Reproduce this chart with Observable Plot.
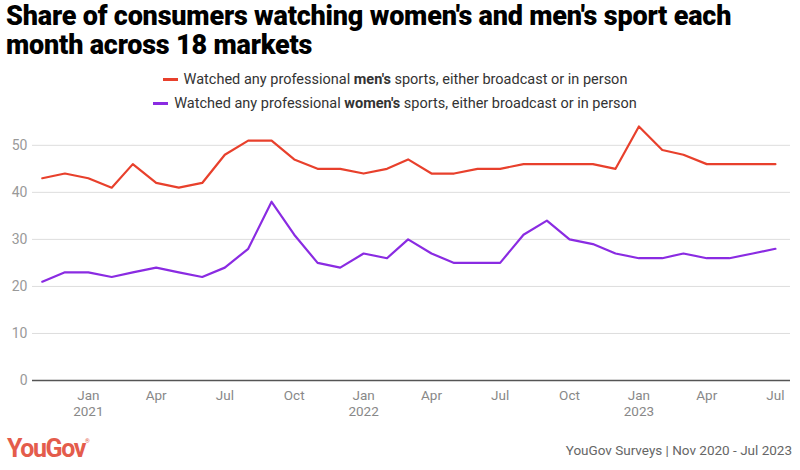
<!DOCTYPE html>
<html>
<head>
<meta charset="utf-8">
<script src="https://cdn.jsdelivr.net/npm/d3@7"></script>
<script src="https://cdn.jsdelivr.net/npm/@observablehq/plot@0.6"></script>
<style>
  html, body { margin: 0; padding: 0; background: #fff; }
  body { width: 800px; height: 470px; position: relative; overflow: hidden; font-family: Roboto, "Liberation Sans", sans-serif; }
  #title { position: absolute; left: 6px; top: 2px; width: 780px; font-size: 27px; font-weight: 900; line-height: 29px; color: #000; letter-spacing: -0.2px; }
  #legend { position: absolute; left: 0; top: 68px; width: 790px; text-align: center; font-size: 14.5px; color: #333; line-height: 24px; }
  .sw { display: inline-block; width: 15px; height: 3px; vertical-align: middle; margin-right: 6px; position: relative; top: -1px; }
  #chart { position: absolute; left: 0; top: 116px; }
  #logo { position: absolute; left: 7px; top: 434px; font-size: 25px; font-weight: 700; color: #e45c4c; letter-spacing: -1.4px; }
  #logo sup { font-size: 6px; font-weight: 400; vertical-align: top; position: relative; top: 3px; letter-spacing: 0; }
  #source { position: absolute; right: 8px; top: 442px; font-size: 13.5px; color: #666; }
</style>
</head>
<body>
<div id="title">Share of consumers watching women's and men's sport each month across 18 markets</div>
<div id="legend">
  <div><span class="sw" style="background:#e8402c"></span>Watched any professional <b>men's</b> sports, either broadcast or in person</div>
  <div><span class="sw" style="background:#8a2be2"></span>Watched any professional <b>women's</b> sports, either broadcast or in person</div>
</div>
<div id="chart"></div>
<div id="logo">YouGov<sup>®</sup></div>
<div id="source">YouGov Surveys | Nov 2020 - Jul 2023</div>
<script>
const months = [
  "2020-11","2020-12",
  "2021-01","2021-02","2021-03","2021-04","2021-05","2021-06","2021-07","2021-08","2021-09","2021-10","2021-11","2021-12",
  "2022-01","2022-02","2022-03","2022-04","2022-05","2022-06","2022-07","2022-08","2022-09","2022-10","2022-11","2022-12",
  "2023-01","2023-02","2023-03","2023-04","2023-05","2023-06","2023-07"
];
const mens = [43,44, 43,41,46,42,41,42,48,51,51,47,45,45, 44,45,47,44,44,45,45,46,46,46,46,45, 54,49,48,46,46,46,46];
const womens = [21,23, 23,22,23,24,23,22,24,28,38,31,25,24, 27,26,30,27,25,25,25,31,34,30,29,27, 26,26,27,26,26,27,28];
const seriesNames = [
  "Watched any professional men's sports, either broadcast or in person",
  "Watched any professional women's sports, either broadcast or in person"
];
const seriesColors = ["#e8402c", "#8a2be2"];
const yTicks = [0, 10, 20, 30, 40, 50];
const xTicks = ["2021-01","2021-04","2021-07","2021-10","2022-01","2022-04","2022-07","2022-10","2023-01","2023-04","2023-07"];
const monthNames = ["Jan","Feb","Mar","Apr","May","Jun","Jul","Aug","Sep","Oct","Nov","Dec"];

const parse = s => new Date(s + "-01T00:00:00Z");
const rows = [];
months.forEach((m, i) => {
  rows.push({date: parse(m), value: mens[i], series: seriesNames[0]});
  rows.push({date: parse(m), value: womens[i], series: seriesNames[1]});
});

const chart = Plot.plot({
  width: 800,
  height: 309,
  marginLeft: 32,
  marginRight: 10,
  marginTop: 10,
  marginBottom: 45,
  style: {fontFamily: "Roboto, 'Liberation Sans', sans-serif", fontSize: "13.5px", color: "#999", background: "transparent"},
  x: {type: "utc", domain: [new Date("2020-10-19T00:00:00Z"), new Date("2023-07-21T00:00:00Z")], label: null},
  y: {domain: [0, 54], label: null},
  color: {domain: seriesNames, range: seriesColors},
  marks: [
    Plot.gridY(yTicks, {stroke: "#ddd", strokeOpacity: 1, strokeWidth: 1}),
    Plot.axisY(yTicks, {tickSize: 0, tickPadding: 5, label: null, fill: "#999", fontSize: 14}),
    Plot.axisX(xTicks.map(parse), {
      tickSize: 0, tickPadding: 8, label: null, fill: "#888", fontSize: 13.5, lineHeight: 1.2,
      tickFormat: d => d.getUTCMonth() === 0 ? `${monthNames[0]}\n${d.getUTCFullYear()}` : monthNames[d.getUTCMonth()]
    }),
    Plot.ruleY([0], {stroke: "#555", strokeWidth: 1.5}),
    Plot.line(rows, {x: "date", y: "value", z: "series", stroke: "series", strokeWidth: 2.2, curve: "linear"})
  ]
});
document.getElementById("chart").appendChild(chart);
</script>
</body>
</html>
